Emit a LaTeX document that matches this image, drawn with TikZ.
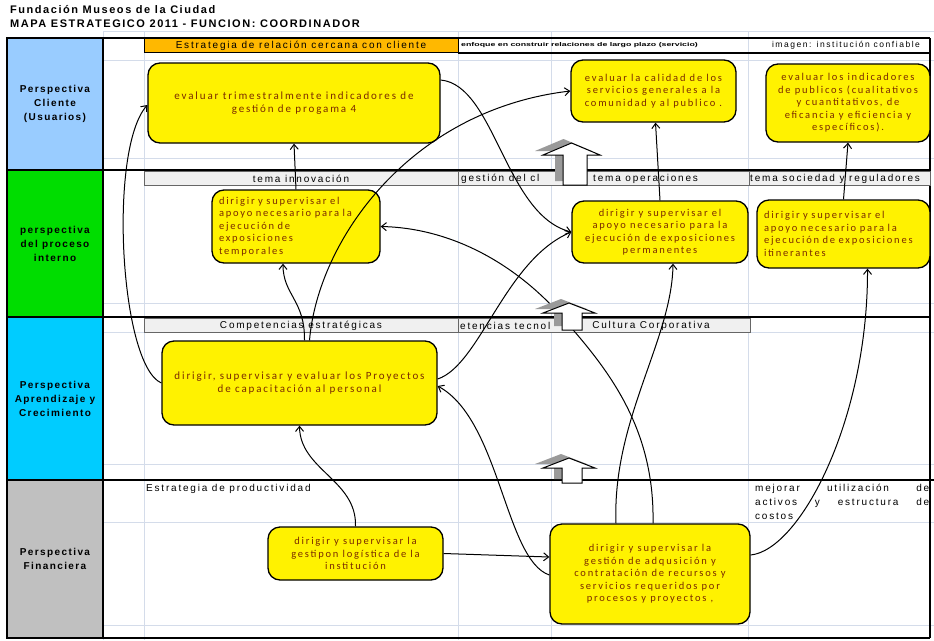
\documentclass[tikz,border=0pt]{standalone}
\usepackage{fontspec}
\setmainfont{Liberation Sans}
\newfontfamily\boxfont[LetterSpace=17]{Carlito}
\newfontfamily\widefont[LetterSpace=18]{Liberation Sans}
\newfontfamily\labfont[LetterSpace=14]{Liberation Sans}
\newfontfamily\titlefont[LetterSpace=14]{Liberation Sans}
\usetikzlibrary{arrows.meta}
\definecolor{cliente}{HTML}{99CCFF}
\definecolor{proceso}{HTML}{00DD00}
\definecolor{aprend}{HTML}{00CCFF}
\definecolor{finan}{HTML}{C0C0C0}
\definecolor{orangebar}{HTML}{FFB800}
\definecolor{barfill}{HTML}{F0F0F0}
\definecolor{gridc}{HTML}{D4DCEA}
\definecolor{boxtext}{HTML}{7A2A00}
\definecolor{shadowc}{HTML}{9A9A9A}
\begin{document}
\begin{tikzpicture}[x=1pt,y=-1pt,
  gridline/.style={draw=gridc, line width=0.8pt},
  framel/.style={draw=black, line width=1.3pt},
  labcell/.style={draw=black, line width=1.3pt, inner sep=0pt, align=center,
    font=\labfont\bfseries\fontsize{10}{14}\selectfont},
  barbox/.style={draw=gray!80!black, line width=0.8pt, fill=barfill},
  bartext/.style={inner sep=0pt, font=\widefont\fontsize{10}{11}\selectfont},
  ybox/.style={draw=black, line width=1.3pt, fill=yellow, rounded corners=12pt,
    inner sep=0pt, align=center, text=boxtext,
    font=\boxfont\fontsize{10.5}{12.5}\selectfont},
  bigtext/.style={font=\boxfont\fontsize{11}{13}\selectfont},
  conn/.style={draw=black, line width=1pt, -{Straight Barb[length=5pt,width=8pt]}},
  arrshadow/.style={fill=shadowc},
  arrbody/.style={fill=white, draw=black, line width=1pt}
]
\useasboundingbox (0,0) rectangle (934,640);
\fill[white] (0,0) rectangle (934,640);

% spreadsheet grid
\foreach \gx in {103,144,458,551,748} \draw[gridline] (\gx,31) -- (\gx,640);
\foreach \gy in {31,60,158,303,332,464,522,625} \draw[gridline] (103,\gy) -- (934,\gy);

% title
\node[anchor=west, inner sep=0pt, font=\titlefont\bfseries\fontsize{11}{12}\selectfont] (title1) at (10,10) {Fundación Museos de la Ciudad};
\node[anchor=west, inner sep=0pt, font=\titlefont\bfseries\fontsize{11}{12}\selectfont] (title2) at (10,24) {MAPA ESTRATEGICO 2011 - FUNCION: COORDINADOR};

% perspective cells
\node[labcell, fill=cliente, minimum width=96pt, minimum height=132pt] (pc) at (55,104) {Perspectiva\\Cliente\\(Usuarios)};
\node[labcell, fill=proceso, minimum width=96pt, minimum height=147pt] (pp) at (55,243.5) {perspectiva\\del proceso\\interno};
\node[labcell, fill=aprend, minimum width=96pt, minimum height=163pt] (pa) at (55,398.5) {Perspectiva\\Aprendizaje y\\Crecimiento};
\node[labcell, fill=finan, minimum width=96pt, minimum height=158pt] (pf) at (55,559) {Perspectiva\\Financiera};

% frame lines
\draw[framel] (7,38) -- (930,38);
\draw[framel] (103,170) -- (930,170);
\draw[framel] (103,317) -- (930,317);
\draw[framel] (103,480) -- (934,480);
\draw[framel] (7,638) -- (930,638);
\draw[framel] (103,38) -- (103,638);
\draw[framel] (930,38) -- (930,638);
\draw[framel] (458,53) -- (930,53);
\draw[framel] (458,38) -- (458,53);

% top strategy row
\node[draw=black, line width=0.8pt, fill=orangebar, minimum width=314pt, minimum height=14pt, inner sep=0pt,
  font=\widefont\fontsize{10}{11}\selectfont] (ob) at (301,45.5) {Estrategia de relación cercana con cliente};
\node[anchor=west, inner sep=0pt, font=\bfseries\fontsize{5.5}{6}\selectfont] (enf) at (461,45.5)
  {\scalebox{1.6}[1]{enfoque en construir relaciones de largo plazo (servicio)}};
\node[inner sep=0pt, font=\widefont\fontsize{8.5}{9}\selectfont] (img) at (846,45.5) {imagen: institución confiable};

% row 2 bar
\draw[barbox] (144,171) rectangle (930,185);
\draw[draw=gray!80!black, line width=0.8pt] (458,171) -- (458,185);
\draw[draw=gray!80!black, line width=0.8pt] (749,171) -- (749,185);
\node[bartext] (t1) at (301,178.5) {tema innovación};
\node[bartext, anchor=west] (t2) at (461,178.5) {gestión del cl};
\node[bartext, anchor=west] (t3) at (593,178.5) {tema operaciones};
\node[bartext, anchor=west] (t4) at (750,178.5) {tema sociedad y reguladores};

% row 3 bar
\draw[barbox] (144,318) rectangle (750,332);
\draw[draw=gray!80!black, line width=0.8pt] (458,318) -- (458,332);
\node[bartext] (c1) at (301,325.5) {Competencias estratégicas};
\node[bartext, anchor=west] (c2) at (460,325.5) {etencias tecnol};
\node[bartext] (c3) at (651,325.5) {Cultura Corporativa};

% row 4 texts
\node[bartext, anchor=west] (ep) at (146,489) {Estrategia de productividad};
\node[anchor=north west, inner sep=0pt, align=left, font=\widefont\fontsize{10}{14}\selectfont] (mej) at (755,484)
  {\makebox[174pt][s]{mejorar\hfill utilización\hfill de}\\
   \makebox[174pt][s]{activos\hfill y\hfill estructura\hfill de}\\
   costos};

% yellow boxes
\node[ybox, bigtext, minimum width=292pt, minimum height=80pt] (b1) at (294,103)
  {evaluar trimestralmente indicadores de\\gestión de progama 4};
\node[ybox, minimum width=165pt, minimum height=62pt] (b2) at (653.5,91)
  {evaluar la calidad de los\\servicios generales a la\\comunidad y al publico .};
\node[ybox, minimum width=164pt, minimum height=78pt] (b3) at (848,103)
  {evaluar los indicadores\\de publicos (cualitativos\\y cuantitativos, de\\eficancia y eficiencia y\\específicos).};
\node[ybox, minimum width=168pt, minimum height=73pt, text width=154pt, align=left] (b4) at (296,226.5)
  {dirigir y supervisar el\\apoyo necesario para la\\ejecución de\\exposiciones\\temporales};
\node[ybox, minimum width=176pt, minimum height=62pt] (b5) at (660,232)
  {dirigir y supervisar el\\apoyo necesario para la\\ejecución de exposiciones\\permanentes};
\node[ybox, minimum width=173pt, minimum height=68pt, text width=159pt, align=left] (b6) at (843.5,234)
  {dirigir y supervisar el\\apoyo necesario para la\\ejecución de exposiciones\\itinerantes};
\node[ybox, bigtext, minimum width=275pt, minimum height=84pt] (b7) at (299.5,383)
  {dirigir, supervisar y evaluar los Proyectos\\de capacitación al personal};
\node[ybox, minimum width=175pt, minimum height=53pt] (b8) at (355.5,553.5)
  {dirigir y supervisar la\\gestipon logística de la\\institución};
\node[ybox, minimum width=200pt, minimum height=100pt] (b9) at (650,574)
  {dirigir y supervisar la\\gestión de adqusición y\\contratación de recursos y\\servicios requeridos por\\procesos y proyectos ,};

% connectors
\draw[conn] (b4.north) -- (b1.south);
\draw[conn] ([xshift=5pt]b7.north) .. controls (305,300) and (283,295) .. ([xshift=-13pt]b4.south);
\draw[conn] (b7.west) .. controls (120,365) and (108,150) .. ([yshift=-2pt]b1.west);
\draw[conn] ([xshift=10pt]b7.north) .. controls (318,240) and (410,110) .. (b2.west);
\draw[conn] ([yshift=23pt]b1.east) .. controls (495,85) and (505,215) .. (b5.west);
\draw[conn] ([yshift=4pt]b7.east) .. controls (480,365) and (505,260) .. (b5.west);
\draw[conn] ([yshift=-1pt]b9.west) .. controls (505,560) and (500,420) .. ([yshift=-3pt]b7.east);
\draw[conn] ([xshift=3pt]b9.north) .. controls (655,420) and (600,360) .. (553,307)
  .. controls (510,262) and (450,228) .. (b4.east);
\draw[conn] ([xshift=-34pt]b9.north) .. controls (612,420) and (672,340) .. ([xshift=13pt]b5.south);
\draw[conn] (b5.north) -- ([xshift=2pt]b2.south);
\draw[conn] (b6.north) -- (b3.south);
\draw[conn] ([yshift=19pt]b9.east) .. controls (800,550) and (868,420) .. ([xshift=24pt]b6.south);
\draw[conn] (b8.east) -- ([yshift=17pt]b9.west);
\draw[conn] (b8.north) .. controls (357,480) and (300,470) .. (b7.south);

% block arrows
\fill[arrshadow] (535,151) -- (563.5,139) -- (592,151) -- (579,151) -- (579,181) -- (555,181) -- (555,151) -- cycle;
\filldraw[arrbody] (543,155) -- (571.5,143) -- (600,155) -- (587,155) -- (587,185) -- (563,185) -- (563,155) -- cycle;
\fill[arrshadow] (535,309) -- (561,299) -- (587,309) -- (574,309) -- (574,326) -- (554,326) -- (554,309) -- cycle;
\filldraw[arrbody] (543,313) -- (569,303) -- (595,313) -- (582,313) -- (582,330) -- (562,330) -- (562,313) -- cycle;
\fill[arrshadow] (535,464) -- (561,454) -- (587,464) -- (574,464) -- (574,479) -- (554,479) -- (554,464) -- cycle;
\filldraw[arrbody] (543,468) -- (569,458) -- (595,468) -- (582,468) -- (582,483) -- (562,483) -- (562,468) -- cycle;
\end{tikzpicture}
\end{document}
